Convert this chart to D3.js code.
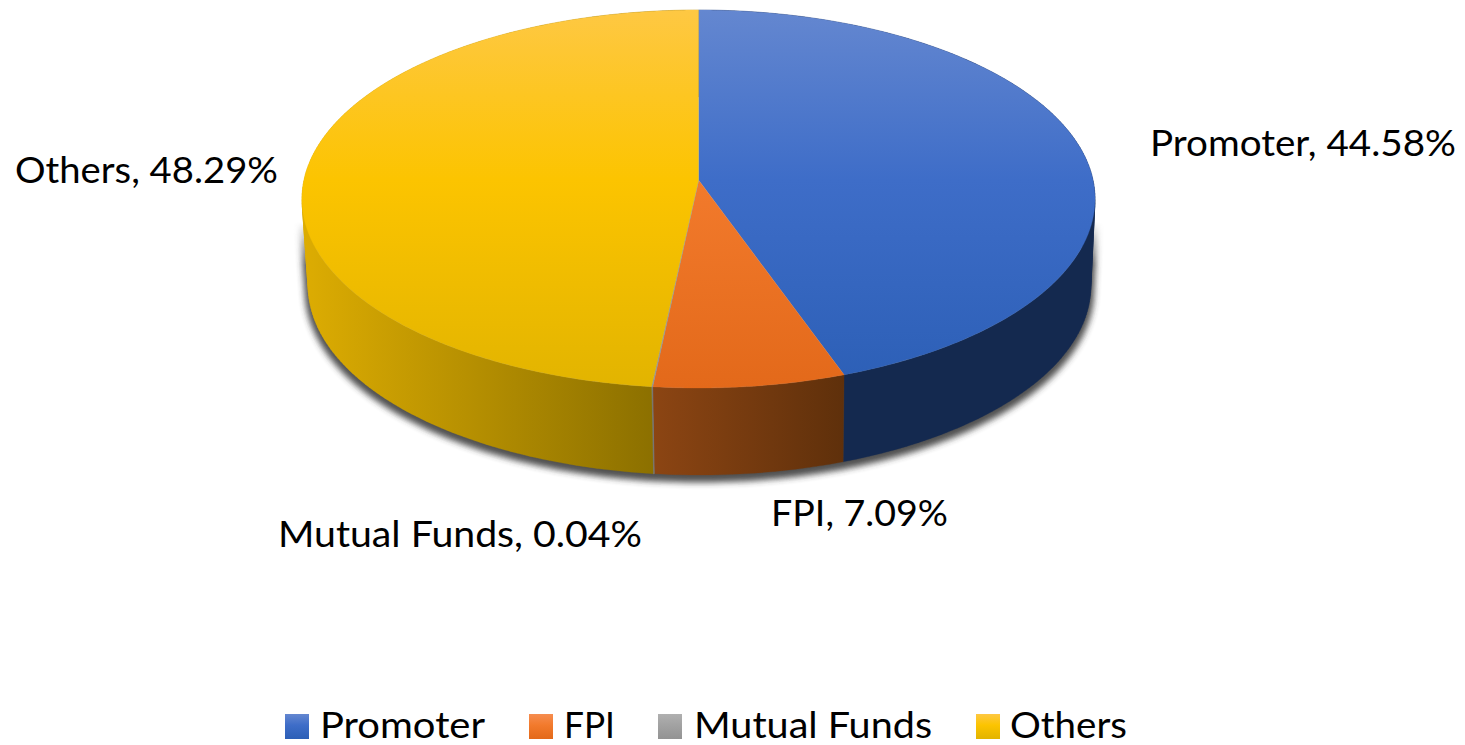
<!DOCTYPE html>
<html><head><meta charset="utf-8">
<script src="https://cdn.jsdelivr.net/npm/d3@7/dist/d3.min.js"></script>
<style>html,body{margin:0;background:#fff}svg{display:block}text{font-family:Lato,"Open Sans",sans-serif;fill:#000}</style>
</head><body><svg id="c" width="1465" height="745"></svg>
<script>
const categories = ["Promoter","FPI","Mutual Funds","Others"];
const values = [44.58,7.09,0.04,48.29];
const valueLabels = ["44.58%","7.09%","0.04%","48.29%"];
const topStops = [["#6487d0","#3e6dc8","#2c5fb6"],["#f68d50","#f27a2c","#e3691a"],["#b0b0b0","#a2a2a2","#939393"],["#fec843","#fcc400","#e2b400"]];
const sideStops = [["#14294f","#14294f"],["#8c4513","#5f300b"],["#888","#777"],["#dcac02","#8c7000"]];
const labelPos = [[1150,156,306],[771,526,177],[278,547,364],[15,183,263]];
const legendPos = [[285,320,165],[529,564,51],[658,694,238],[976,1010,117]];

const svg = d3.select("#c"), defs = svg.append("defs");
const cx=698.5, a=169, b=180, c=-0.1005, d=394.5, depth=87, botScale=0.987, botShift=1;
const proj=(t,k=1,dy=0,dx=0)=>{const u=Math.sin(t),v=-Math.cos(t),w=1+c*v;return [cx+dx+k*d*u/w,(a*v+b)/w+dy];};
const arcs=d3.pie().sort(null)(values);
const line=d3.line().curve(d3.curveLinear);
const samples=(s,e,n=Math.max(2,Math.ceil((e-s)*60)))=>d3.range(n+1).map(i=>s+(e-s)*i/n);
// wall = union of consistently wound quads, one path, so there are no seams
const wall=(s,e)=>d3.pairs(samples(s,e)).map(([p,q])=>{
  const r=[proj(p),proj(q),proj(q,botScale,depth,botShift),proj(p,botScale,depth,botShift)];
  if(d3.polygonArea(r)<0) r.reverse();
  return line(r)+"Z";
}).join("");

defs.append("filter").attr("id","blur").attr("x","-10%").attr("y","-10%").attr("width","120%").attr("height","120%")
  .append("feGaussianBlur").attr("stdDeviation",3);
function grad(id,x1,y1,x2,y2,stops){
  const g=defs.append("linearGradient").attr("id",id).attr("gradientUnits","userSpaceOnUse")
    .attr("x1",x1).attr("y1",y1).attr("x2",x2).attr("y2",y2);
  stops.forEach((col,i)=>g.append("stop").attr("offset",stops.length===3?[0,.45,1][i]:i).attr("stop-color",col));
}
// fade mask so the shadow only appears below the disc's widest part
grad("fade",0,222,0,265,["#000","#fff"]);
defs.append("mask").attr("id","lower").attr("maskUnits","userSpaceOnUse")
  .attr("x",0).attr("y",0).attr("width",1465).attr("height",745)
  .append("rect").attr("width",1465).attr("height",745).attr("fill","url(#fade)");
svg.append("g").attr("mask","url(#lower)").append("path").attr("d",wall(0,2*Math.PI)).attr("transform","translate(0,4)")
  .attr("fill","#333").attr("stroke","#333").attr("stroke-width",7).attr("stroke-linejoin","round")
  .attr("opacity",.85).attr("filter","url(#blur)");
// side walls
const sidesG=svg.append("g"), topG=svg.append("g");
arcs.forEach((p,i)=>{
  const xa=proj(p.startAngle)[0], xb=proj(p.endAngle)[0];
  const lo = i===3 ? 306 : Math.min(xa,xb), hi = i===3 ? 653 : Math.max(xa,xb);
  grad("s"+i,lo,0,hi,0,sideStops[i]);
  sidesG.append("path").attr("d",wall(p.startAngle,p.endAngle)).attr("fill",`url(#s${i})`)
    .attr("stroke",`url(#s${i})`).attr("stroke-width",i===2?0.8:0.3);
});
// top faces
arcs.forEach((p,i)=>{
  grad("t"+i,0,10,0,388,topStops[i]);
  const pts=[[cx,b]].concat(samples(p.startAngle,p.endAngle,Math.max(2,Math.ceil((p.endAngle-p.startAngle)*120))).map(t=>proj(t)));
  topG.append("path").attr("d",line(pts)+"Z").attr("fill",`url(#t${i})`)
    .attr("stroke",`url(#t${i})`).attr("stroke-width",i===2?0.8:0.3);
});
// labels
categories.forEach((n,i)=>{
  svg.append("text").attr("x",labelPos[i][0]).attr("y",labelPos[i][1])
    .attr("font-size",37).attr("textLength",labelPos[i][2]).attr("lengthAdjust","spacingAndGlyphs")
    .text(`${n}, ${valueLabels[i]}`);
});
// legend
categories.forEach((n,i)=>{
  grad("l"+i,0,714,0,739,topStops[i]);
  svg.append("rect").attr("x",legendPos[i][0]).attr("y",714).attr("width",24).attr("height",25).attr("fill",`url(#l${i})`);
  svg.append("text").attr("x",legendPos[i][1]).attr("y",738).attr("font-size",37)
    .attr("textLength",legendPos[i][2]).attr("lengthAdjust","spacingAndGlyphs").text(n);
});
</script></body></html>
